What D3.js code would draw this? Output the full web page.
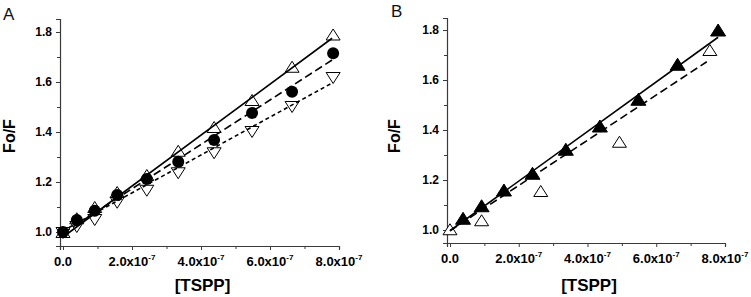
<!DOCTYPE html>
<html><head><meta charset="utf-8">
<script src="https://cdn.jsdelivr.net/npm/d3@7"></script>
<style>
body{margin:0;background:#fff;}
svg{display:block;font-family:Arial,"Liberation Sans",sans-serif;}
</style></head>
<body>
<svg id="chart" width="751" height="297"></svg>
<script>
// ---------- Data ----------
const xTicks = [0, 2e-7, 4e-7, 6e-7, 8e-7];
const xTickLabels = ["0.0", "2.0x10", "4.0x10", "6.0x10", "8.0x10"];
const yTicks = [1.0, 1.2, 1.4, 1.6, 1.8];

// Panel A
const xA = [0, 0.4e-7, 0.92e-7, 1.57e-7, 2.43e-7, 3.34e-7, 4.38e-7, 5.48e-7, 6.64e-7, 7.83e-7];
const upA = [1.0, 1.055, 1.10, 1.16, 1.228, 1.325, 1.42, 1.528, 1.661, 1.79];
const circA = [1.0, 1.048, 1.085, 1.148, 1.212, 1.281, 1.368, 1.476, 1.561, 1.715];
const downA = [0.996, 1.02, 1.048, 1.117, 1.165, 1.235, 1.315, 1.40, 1.50, 1.616];
const fitSolidA = [[0, 0.98], [7.8e-7, 1.775]];
const fitDashA = [[0, 0.995], [7.8e-7, 1.688]];
const fitDotA = [[0, 1.005], [7.8e-7, 1.596]];

// Panel B
const xB = [0.38e-7, 0.92e-7, 1.57e-7, 2.4e-7, 3.37e-7, 4.36e-7, 5.48e-7, 6.62e-7, 7.8e-7];
const filledB = [1.047, 1.097, 1.16, 1.227, 1.323, 1.416, 1.523, 1.663, 1.8];
const openBx = [0, 0.92e-7, 2.64e-7, 4.93e-7, 7.56e-7];
const openBy = [1.003, 1.039, 1.156, 1.353, 1.72];
const fitSolidB = [[0, 0.997], [7.8e-7, 1.771]];
const fitDashB = [[0, 0.997], [7.47e-7, 1.673]];

const svg = d3.select("#chart");
const axisColor = "#3a3a3a";

function panel(cfg) {
  const g = svg.append("g");
  const x = d3.scaleLinear().domain(cfg.xDomain).range(cfg.xRange);
  const y = d3.scaleLinear().domain(cfg.yDomain).range(cfg.yRange);

  // axes
  const xAxis = d3.axisBottom(x).tickValues(xTicks).tickSize(4).tickFormat("");
  const xMinor = d3.axisBottom(x).tickValues([1e-7, 3e-7, 5e-7, 7e-7]).tickSize(3).tickFormat("");
  const yAxis = d3.axisLeft(y).tickValues(yTicks).tickSize(4).tickFormat(d3.format(".1f"));
  const yMinor = d3.axisLeft(y).tickValues([1.1, 1.3, 1.5, 1.7]).tickSize(3).tickFormat("");

  const gx = g.append("g").attr("transform", `translate(0,${cfg.yRange[0]})`).call(xAxis);
  g.append("g").attr("transform", `translate(0,${cfg.yRange[0]})`).call(xMinor).select(".domain").remove();
  const gy = g.append("g").attr("transform", `translate(${cfg.xRange[0]},0)`).call(yAxis);
  g.append("g").attr("transform", `translate(${cfg.xRange[0]},0)`).call(yMinor).select(".domain").remove();

  g.selectAll(".domain").attr("stroke", axisColor).attr("stroke-width", 1.2);
  g.selectAll(".tick line").attr("stroke", axisColor);

  gy.selectAll(".tick text").attr("font-size", 12).attr("font-weight", "bold")
    .attr("fill", "#000").attr("x", -8).attr("font-family", "Arial, 'Liberation Sans', sans-serif");

  // x tick labels with superscript
  xTicks.forEach((v, i) => {
    const t = g.append("text").attr("x", x(v)).attr("y", cfg.yRange[0] + 20)
      .attr("text-anchor", "middle").attr("font-size", 13).attr("font-weight", "bold")
      .attr("fill", "#000");
    t.append("tspan").text(xTickLabels[i]);
    if (i > 0) t.append("tspan").attr("dy", -6).attr("font-size", 8).text("-7");
  });

  // axis titles
  g.append("text").attr("x", (cfg.xRange[0] + cfg.xRange[1]) / 2 + 3).attr("y", 291)
    .attr("text-anchor", "middle").attr("font-size", 17).attr("font-weight", "bold").text("[TSPP]");
  g.append("text").attr("transform", `translate(${cfg.yLabelX},${cfg.yLabelY}) rotate(-90)`)
    .attr("text-anchor", "middle").attr("font-size", 16).attr("font-weight", "bold").text("Fo/F");
  g.append("text").attr("x", cfg.letterX).attr("y", cfg.letterY)
    .attr("font-size", 17).attr("fill", "#111").text(cfg.letter);

  return {g, x, y};
}

const triUp = (w, h) => `M0,${-h/2}L${w/2},${h/2}L${-w/2},${h/2}Z`;
const triDown = (w, h) => `M0,${h/2}L${w/2},${-h/2}L${-w/2},${-h/2}Z`;

function markers(p, xs, ys, shape, fill) {
  p.g.append("g").selectAll("path").data(xs.map((d, i) => [d, ys[i]])).join("path")
    .attr("d", shape)
    .attr("transform", d => `translate(${p.x(d[0])},${p.y(d[1])})`)
    .attr("fill", fill).attr("stroke", "#000").attr("stroke-width", 1);
}
function circles(p, xs, ys) {
  p.g.append("g").selectAll("circle").data(xs.map((d, i) => [d, ys[i]])).join("circle")
    .attr("cx", d => p.x(d[0])).attr("cy", d => p.y(d[1])).attr("r", 6).attr("fill", "#000");
}
function fit(p, pts, dash) {
  p.g.append("path").datum(pts)
    .attr("d", d3.line().x(d => p.x(d[0])).y(d => p.y(d[1])))
    .attr("fill", "none").attr("stroke", "#000").attr("stroke-width", 1.6)
    .attr("stroke-dasharray", dash);
}

// Panel A
const A = panel({
  xDomain: [-0.087e-7, 8e-7], xRange: [60, 339],
  yDomain: [0.944, 1.852], yRange: [246, 19],
  yLabelX: 15, yLabelY: 136, letter: "A", letterX: 3, letterY: 20
});
markers(A, xA, downA, triDown(14, 11), "#fff");
markers(A, xA, upA, triUp(14, 11), "#fff");
circles(A, xA, circA);
fit(A, fitSolidA, null);
fit(A, fitDashA, "8,4");
fit(A, fitDotA, "4,3");

// Panel B
const B = panel({
  xDomain: [-0.087e-7, 8e-7], xRange: [447, 725],
  yDomain: [0.948, 1.848], yRange: [243, 18],
  yLabelX: 400, yLabelY: 136, letter: "B", letterX: 391, letterY: 17
});
markers(B, openBx, openBy, triUp(14, 11), "#fff");
markers(B, xB, filledB, triUp(15, 12), "#000");
fit(B, fitSolidB, null);
fit(B, fitDashB, "8,4");
</script>
</body></html>
